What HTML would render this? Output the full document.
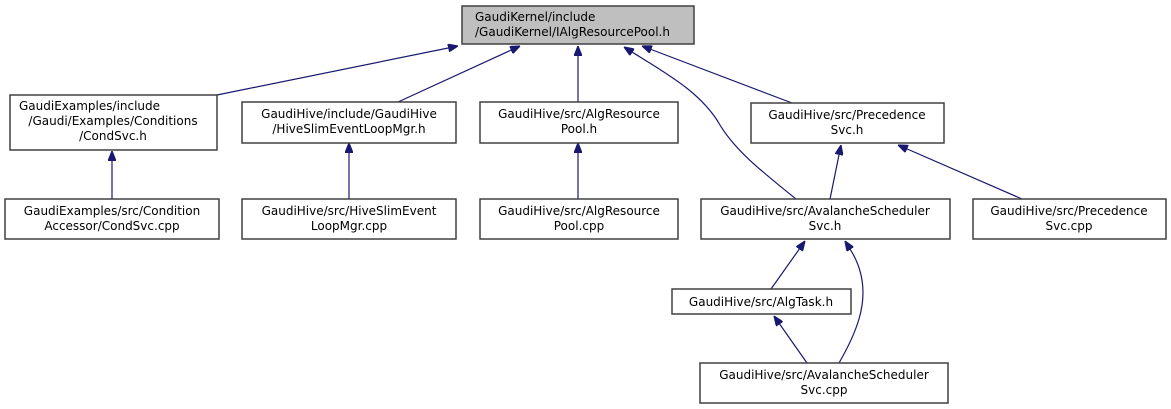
<!DOCTYPE html>
<html><head><meta charset="utf-8"><style>
html,body{margin:0;padding:0;background:#fff;}
svg{display:block;}
text{font-family:"DejaVu Sans","Liberation Sans",sans-serif;font-size:12px;fill:#000;text-anchor:middle;}
rect{stroke:#404040;stroke-width:1.5;fill:#fff;}
path{fill:none;stroke:#191970;stroke-width:1.2;}
</style></head><body>
<svg width="1171" height="409" viewBox="0 0 1171 409" xmlns="http://www.w3.org/2000/svg">
<defs><marker id="a" viewBox="0 0 10 8" refX="10" refY="4" markerWidth="10" markerHeight="8" markerUnits="userSpaceOnUse" orient="auto"><path d="M0,0 L10,4 L0,8 z" style="fill:#191970;stroke:#191970"/></marker></defs>

<path d="M217,95 L458,46" marker-end="url(#a)"/>
<path d="M398,102 L520,46" marker-end="url(#a)"/>
<path d="M578,102 L578,46" marker-end="url(#a)"/>
<path d="M796,199 C760,170 735,150 720,125 C700,90 660,70 624,47" marker-end="url(#a)"/>
<path d="M792,103 L642,46" marker-end="url(#a)"/>
<path d="M112,199 L112,151" marker-end="url(#a)"/>
<path d="M349,199 L349,143" marker-end="url(#a)"/>
<path d="M578,199 L578,143" marker-end="url(#a)"/>
<path d="M830,199 L841,145" marker-end="url(#a)"/>
<path d="M1022,199 L898,145" marker-end="url(#a)"/>
<path d="M771,289 L805,241" marker-end="url(#a)"/>
<path d="M807,363 L774,316" marker-end="url(#a)"/>
<path d="M839,363 C858,330 866,305 862,280 C859,262 852,252 845,241" marker-end="url(#a)"/>

<rect x="462" y="6" width="232" height="38" style="fill:#bfbfbf"/>
<text x="475" y="21" style="text-anchor:start">GaudiKernel/include</text>
<text x="475" y="36" style="text-anchor:start">/GaudiKernel/IAlgResourcePool.h</text>

<rect x="10" y="95" width="207" height="55"/>
<text x="19" y="110" style="text-anchor:start">GaudiExamples/include</text>
<text x="113" y="125">/Gaudi/Examples/Conditions</text>
<text x="113" y="140">/CondSvc.h</text>

<rect x="242" y="102" width="214" height="41"/>
<text x="349" y="118">GaudiHive/include/GaudiHive</text>
<text x="349" y="133">/HiveSlimEventLoopMgr.h</text>

<rect x="480" y="102" width="198" height="41"/>
<text x="579" y="118">GaudiHive/src/AlgResource</text>
<text x="579" y="133">Pool.h</text>

<rect x="751" y="103" width="193" height="40"/>
<text x="847" y="119">GaudiHive/src/Precedence</text>
<text x="847" y="134">Svc.h</text>

<rect x="5" y="199" width="214" height="40"/>
<text x="112" y="215">GaudiExamples/src/Condition</text>
<text x="112" y="230">Accessor/CondSvc.cpp</text>

<rect x="242" y="199" width="214" height="40"/>
<text x="349" y="215">GaudiHive/src/HiveSlimEvent</text>
<text x="349" y="230">LoopMgr.cpp</text>

<rect x="480" y="199" width="198" height="40"/>
<text x="579" y="215">GaudiHive/src/AlgResource</text>
<text x="579" y="230">Pool.cpp</text>

<rect x="701" y="199" width="249" height="40"/>
<text x="825" y="215">GaudiHive/src/AvalancheScheduler</text>
<text x="825" y="230">Svc.h</text>

<rect x="973" y="199" width="193" height="40"/>
<text x="1069" y="215">GaudiHive/src/Precedence</text>
<text x="1069" y="230">Svc.cpp</text>

<rect x="672" y="289" width="179" height="25"/>
<text x="761" y="306">GaudiHive/src/AlgTask.h</text>

<rect x="700" y="363" width="248" height="40"/>
<text x="824" y="379">GaudiHive/src/AvalancheScheduler</text>
<text x="824" y="394">Svc.cpp</text>
</svg>
</body></html>
